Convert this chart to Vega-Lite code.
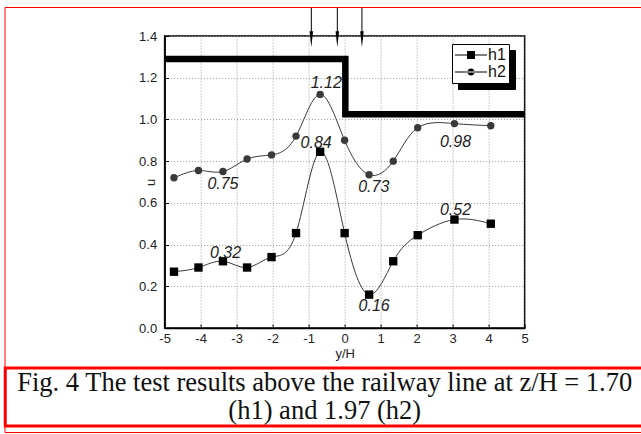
{
  "$schema": "https://vega.github.io/schema/vega-lite/v6.json",
  "background": "white",
  "padding": {"left": 3, "top": 6, "right": 0, "bottom": 2},
  "spacing": 5,
  "center": true,
  "datasets": {
    "meas": [
      {"yH": -4.74, "u": 0.27, "series": "h1"},
      {"yH": -4.06, "u": 0.29, "series": "h1"},
      {"yH": -3.38, "u": 0.32, "series": "h1"},
      {"yH": -2.71, "u": 0.29, "series": "h1"},
      {"yH": -2.03, "u": 0.34, "series": "h1"},
      {"yH": -1.35, "u": 0.455, "series": "h1"},
      {"yH": -0.68, "u": 0.845, "series": "h1"},
      {"yH": 0.0, "u": 0.455, "series": "h1"},
      {"yH": 0.68, "u": 0.16, "series": "h1"},
      {"yH": 1.35, "u": 0.32, "series": "h1"},
      {"yH": 2.03, "u": 0.445, "series": "h1"},
      {"yH": 3.05, "u": 0.52, "series": "h1"},
      {"yH": 4.06, "u": 0.5, "series": "h1"},
      {"yH": -4.74, "u": 0.72, "series": "h2"},
      {"yH": -4.06, "u": 0.755, "series": "h2"},
      {"yH": -3.38, "u": 0.75, "series": "h2"},
      {"yH": -2.71, "u": 0.81, "series": "h2"},
      {"yH": -2.03, "u": 0.83, "series": "h2"},
      {"yH": -1.35, "u": 0.92, "series": "h2"},
      {"yH": -0.68, "u": 1.12, "series": "h2"},
      {"yH": 0.0, "u": 0.9, "series": "h2"},
      {"yH": 0.68, "u": 0.735, "series": "h2"},
      {"yH": 1.35, "u": 0.8, "series": "h2"},
      {"yH": 2.03, "u": 0.96, "series": "h2"},
      {"yH": 3.05, "u": 0.98, "series": "h2"},
      {"yH": 4.06, "u": 0.97, "series": "h2"}
    ],
    "wall": [
      {"yH": -5, "u": 1.29, "o": 1},
      {"yH": 0.02, "u": 1.29, "o": 2},
      {"yH": 0.02, "u": 1.025, "o": 3},
      {"yH": 5, "u": 1.025, "o": 4}
    ],
    "arrows": [{"yH": -0.925}, {"yH": -0.203}, {"yH": 0.481}],
    "notes": [
      {"yH": -0.51, "u": 1.176, "label": "1.12"},
      {"yH": -0.79, "u": 0.888, "label": "0.84"},
      {"yH": 3.08, "u": 0.893, "label": "0.98"},
      {"yH": -3.38, "u": 0.69, "label": "0.75"},
      {"yH": 0.81, "u": 0.677, "label": "0.73"},
      {"yH": -3.31, "u": 0.361, "label": "0.32"},
      {"yH": 0.82, "u": 0.105, "label": "0.16"},
      {"yH": 3.08, "u": 0.566, "label": "0.52"}
    ],
    "shadowkeys": [{"k": "h1"}, {"k": "h2"}],
    "caption": [{"t": "Fig. 4 The test results above the railway line at z/H = 1.70\n(h1) and 1.97 (h2)"}]
  },
  "vconcat": [
    {
      "width": 360,
      "height": 292,
      "view": {"stroke": "black", "strokeWidth": 1.5},
      "layer": [
        {
          "data": {"name": "wall"},
          "mark": {"type": "line", "color": "black", "strokeWidth": 6.5, "strokeCap": "butt", "strokeJoin": "miter", "clip": false},
          "encoding": {
            "x": {"field": "yH", "type": "quantitative", "scale": {"domain": [-5, 5], "nice": false},
                  "axis": {"title": "y/H", "tickCount": 10, "labelExpr": "toString(datum.value)", "labelSeparation": -15, "labelFlush": false}},
            "y": {"field": "u", "type": "quantitative", "scale": {"domain": [0, 1.4], "nice": false},
                  "axis": {"title": "u", "values": [0, 0.2, 0.4, 0.6, 0.8, 1.0, 1.2, 1.4], "format": ".1f", "labelFlush": false}},
            "order": {"field": "o"}
          }
        },
        {
          "data": {"name": "arrows"},
          "mark": {"type": "rule", "color": "black", "strokeWidth": 1, "clip": false},
          "encoding": {
            "x": {"field": "yH", "type": "quantitative"},
            "y": {"datum": 1.535},
            "y2": {"datum": 1.4}
          }
        },
        {
          "data": {"name": "arrows"},
          "mark": {"type": "point", "shape": "M-0.22,-1L0.22,-1L0,1Z", "filled": true, "color": "black", "opacity": 1, "size": 256, "clip": false},
          "encoding": {
            "x": {"field": "yH", "type": "quantitative"},
            "y": {"datum": 1.385}
          }
        },
        {
          "data": {"name": "meas"},
          "mark": {"type": "line", "interpolate": "natural", "strokeWidth": 1, "color": "#3a3a3a"},
          "encoding": {
            "x": {"field": "yH", "type": "quantitative"},
            "y": {"field": "u", "type": "quantitative"},
            "detail": {"field": "series"}
          }
        },
        {
          "data": {"name": "meas"},
          "transform": [{"filter": "datum.series === 'h1'"}],
          "mark": {"type": "point", "shape": "square", "filled": true, "color": "black", "opacity": 1, "size": 70},
          "encoding": {
            "x": {"field": "yH", "type": "quantitative"},
            "y": {"field": "u", "type": "quantitative"}
          }
        },
        {
          "data": {"name": "meas"},
          "transform": [{"filter": "datum.series === 'h2'"}],
          "mark": {"type": "point", "shape": "circle", "filled": true, "color": "#3a3a3a", "opacity": 1, "size": 55},
          "encoding": {
            "x": {"field": "yH", "type": "quantitative"},
            "y": {"field": "u", "type": "quantitative"}
          }
        },
        {
          "data": {"name": "arrows"},
          "mark": {"type": "point", "filled": true, "opacity": 0, "clip": true},
          "encoding": {
            "fill": {
              "field": "yH", "type": "quantitative",
              "legend": {
                "title": null, "orient": "none", "direction": "horizontal", "legendX": -0.5, "legendY": -29,
                "gradientLength": 257, "gradientThickness": 1, "gradientOpacity": 0, "gradientStrokeWidth": 0,
                "labelExpr": "''", "labelFontSize": 0, "labelOffset": 0,
                "strokeColor": "red", "padding": 212
              }
            }
          }
        },
        {
          "data": {"name": "shadowkeys"},
          "mark": {"type": "point", "filled": true, "color": "black", "opacity": 0, "clip": true},
          "encoding": {
            "size": {
              "field": "k", "type": "nominal",
              "scale": {"range": [256, 256]},
              "legend": {
                "title": null, "orient": "none", "legendX": 453, "legendY": 14,
                "symbolFillColor": "black", "symbolStrokeWidth": 0, "symbolOpacity": 0,
                "labelOffset": 35, "labelFontSize": 16, "labelFont": "Liberation Sans", "labelExpr": "''",
                "strokeColor": "black", "fillColor": "black", "padding": 3, "rowPadding": 1
              }
            }
          }
        },
        {
          "data": {"name": "meas"},
          "mark": {"type": "point", "filled": true, "color": "black", "opacity": 0, "size": 1},
          "encoding": {
            "x": {"field": "yH", "type": "quantitative"},
            "y": {"field": "u", "type": "quantitative"},
            "shape": {
              "field": "series", "type": "nominal",
              "scale": {"domain": ["h1", "h2"], "range": [
                "M-1,-0.07L3,-0.07L3,0.07L-1,0.07Z M0.5,-0.5L1.5,-0.5L1.5,0.5L0.5,0.5Z",
                "M-1,-0.07L3,-0.07L3,0.07L-1,0.07Z M0.55,0A0.45,0.45 0 1,0 1.45,0A0.45,0.45 0 1,0 0.55,0Z"
              ]},
              "legend": {
                "title": null, "orient": "none", "legendX": 447, "legendY": 8,
                "symbolSize": 256, "symbolFillColor": "black", "symbolStrokeColor": "black", "symbolStrokeWidth": 0, "symbolOpacity": 1,
                "labelOffset": 17, "labelFontSize": 16, "labelFont": "Liberation Sans", "labelColor": "#111",
                "strokeColor": "black", "fillColor": "white", "padding": 3, "rowPadding": 1
              }
            }
          }
        },
        {
          "data": {"name": "notes"},
          "mark": {"type": "text", "font": "Liberation Sans", "fontStyle": "italic", "fontSize": 16, "color": "#222", "align": "center", "baseline": "middle"},
          "encoding": {
            "x": {"field": "yH", "type": "quantitative"},
            "y": {"field": "u", "type": "quantitative"},
            "text": {"field": "label"}
          }
        }
      ]
    },
    {
      "width": 691,
      "height": 58,
      "view": {"stroke": "red", "strokeWidth": 3},
      "data": {"name": "caption"},
      "mark": {"type": "text", "font": "Liberation Serif", "fontSize": 26.5, "color": "#111", "lineBreak": "\n", "align": "center", "baseline": "middle", "lineHeight": 28, "dx": -26, "dy": -14},
      "encoding": {"text": {"field": "t"}}
    }
  ],
  "config": {
    "axis": {
      "labelFont": "Liberation Sans", "labelFontSize": 13, "labelColor": "#222",
      "titleFont": "Liberation Sans", "titleFontSize": 13, "titleFontWeight": "normal", "titleColor": "#222",
      "domainColor": "black", "domainWidth": 1.5,
      "tickColor": "black", "tickSize": -4, "tickWidth": 1,
      "grid": true, "gridColor": "#9a9a9a", "gridDash": [1, 2], "gridWidth": 1
    },
    "axisX": {"labelPadding": 8, "titlePadding": 2},
    "axisY": {"labelPadding": 12, "titlePadding": -19}
  }
}
